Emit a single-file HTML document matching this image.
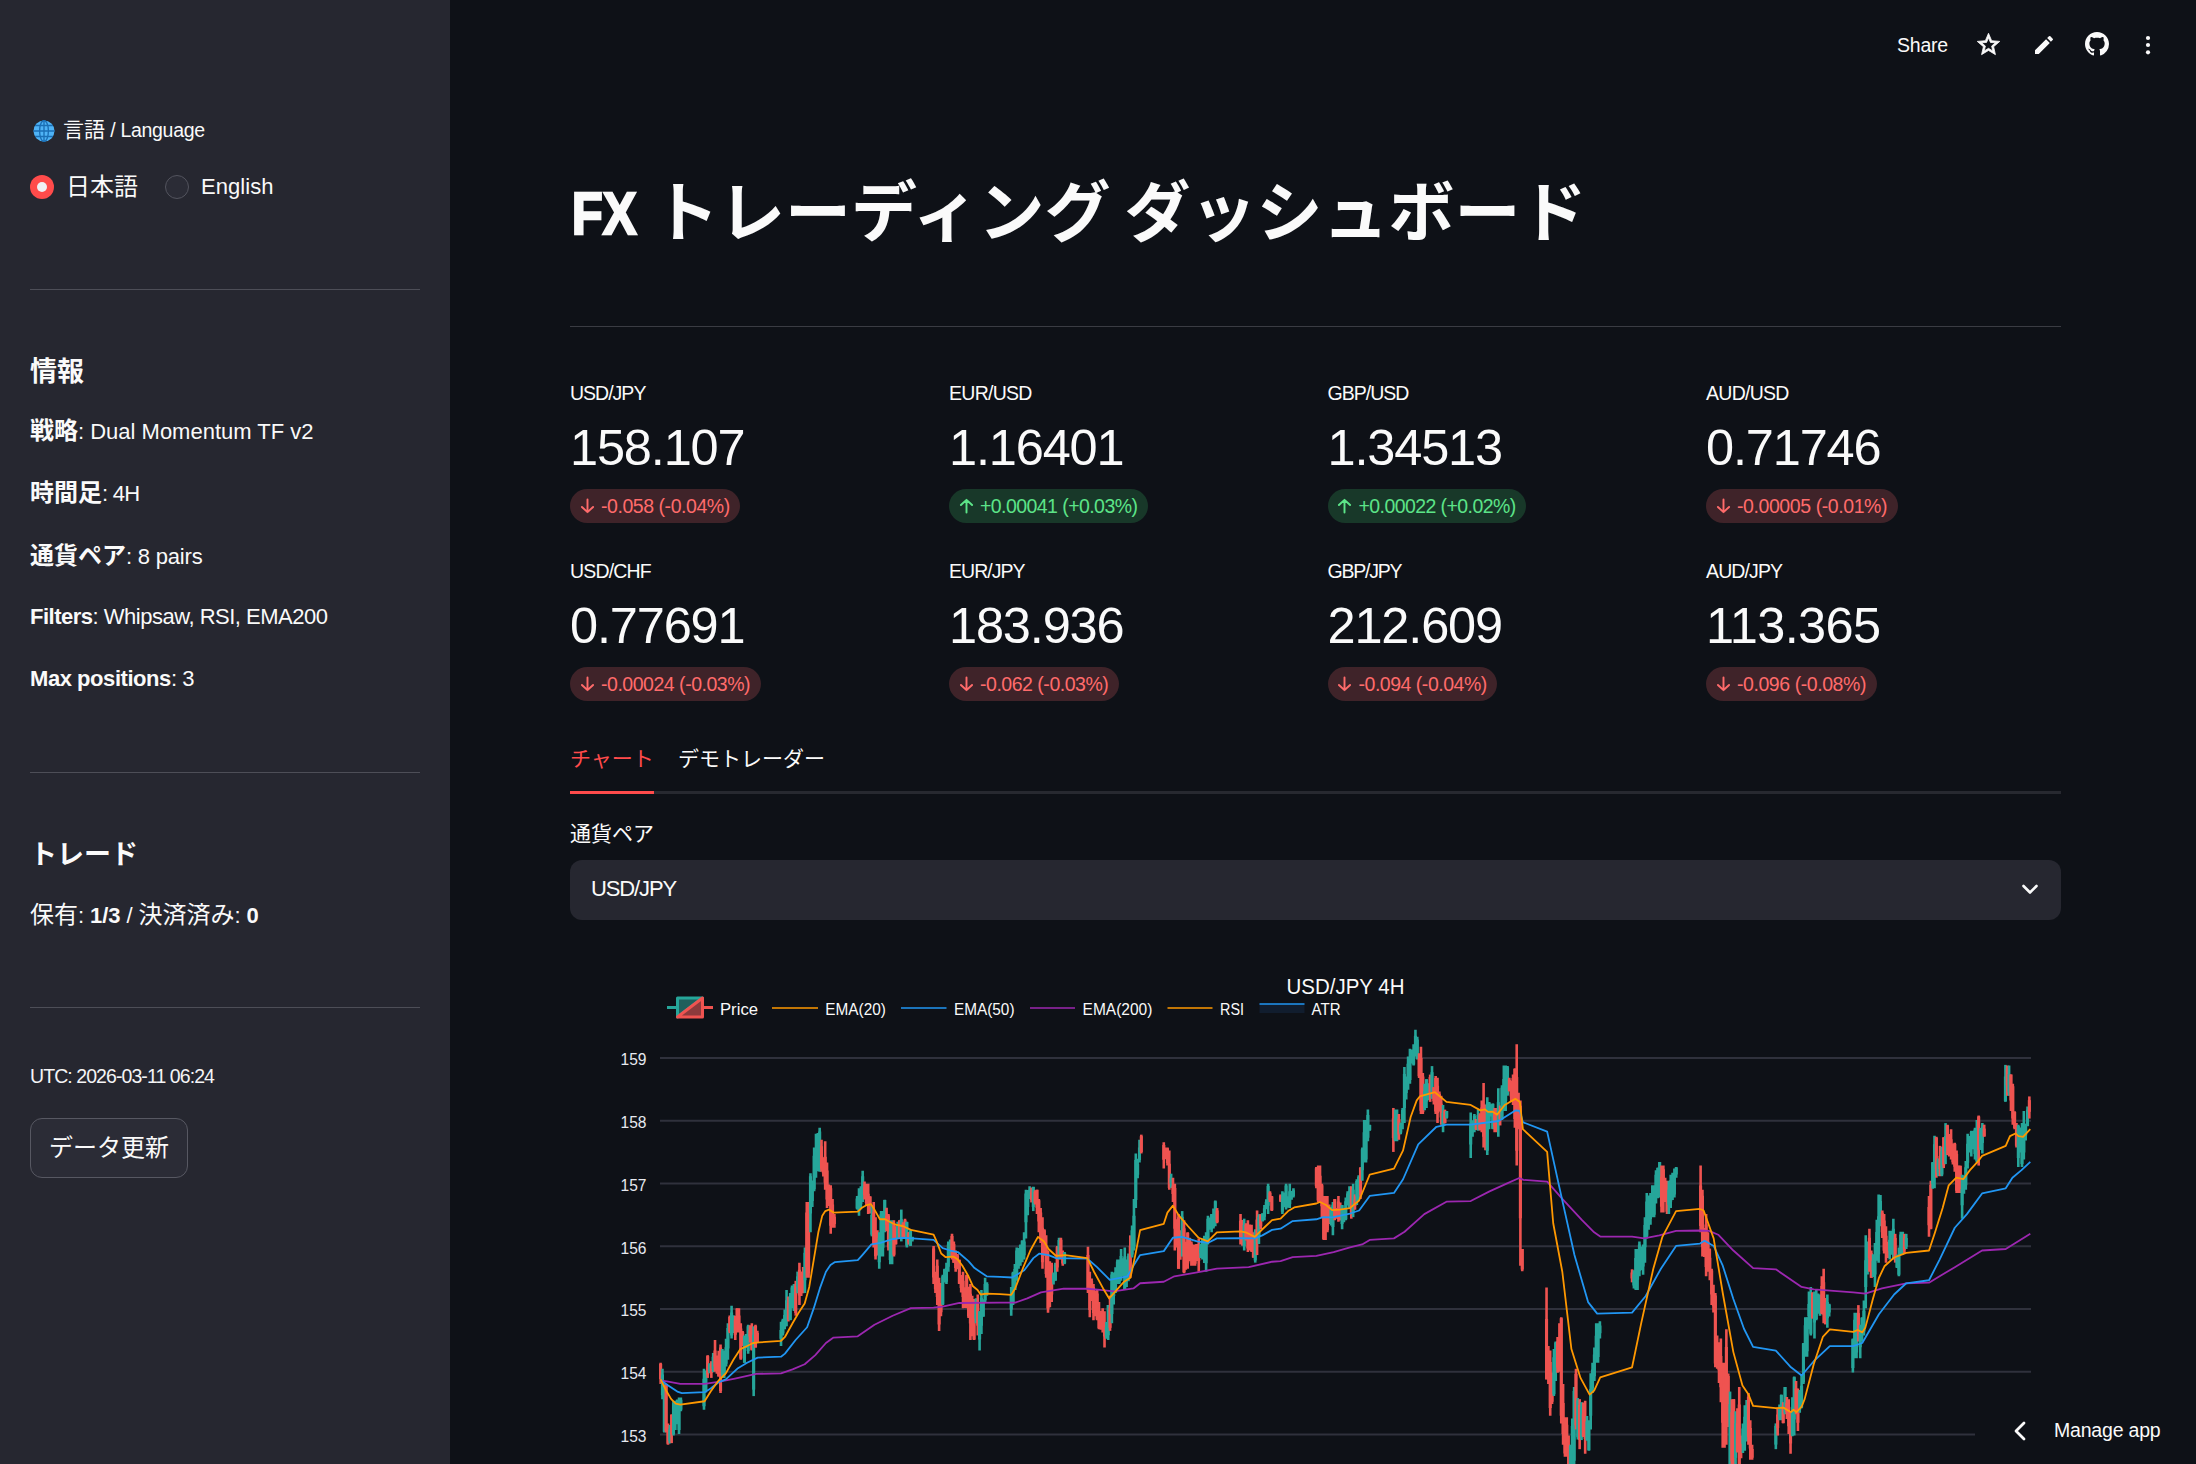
<!DOCTYPE html>
<html lang="ja">
<head>
<meta charset="utf-8">
<title>FX トレーディング ダッシュボード</title>
<style>
*{box-sizing:border-box;margin:0;padding:0}
html,body{width:2196px;height:1464px;overflow:hidden;background:#0e1117}
body{font-family:"Liberation Sans","Noto Sans CJK JP",sans-serif;color:#fafafa;position:relative;-webkit-font-smoothing:antialiased}
.abs{position:absolute}
.t{position:absolute;white-space:nowrap;line-height:1;color:#fafafa}
.l{font-family:"Liberation Sans","Noto Sans CJK JP",sans-serif}
b{font-weight:700}
#sidebar{position:absolute;left:0;top:0;width:450px;height:1464px;background:#262730}
#main{position:absolute;left:450px;top:0;width:1746px;height:1464px;background:#0e1117}
.hr{position:absolute;height:1px;background:#4d4e57}
.s24{font-size:24px}
.s21{font-size:21px}
.lat{font-size:22px}
.metric-label{font-size:21px}
.metric-value{font-size:54px}
.pill{position:absolute;height:34px;border-radius:17px;font-size:21px;line-height:34px;white-space:nowrap;padding-left:31px}
.pill svg{position:absolute;left:9.5px;top:9px}
.pill.dn{background:#3f2329;color:#ff6b6b}
.pill.up{background:#183829;color:#5ce488}
</style>
</head>
<body>
<aside id="sidebar">
  <!-- language label -->
  <svg class="abs" style="left:33px;top:119.5px" width="22" height="22" viewBox="0 0 21 21">
    <circle cx="10.5" cy="10.5" r="10" fill="#4fb3f6"/>
    <g fill="none" stroke="#1b6fb5" stroke-width="1.3">
      <ellipse cx="10.5" cy="10.5" rx="4.2" ry="10"/>
      <path d="M10.5 .5v20M.5 10.5h20M2 5.3h17M2 15.7h17"/>
    </g>
  </svg>
  <div class="t s21" style="left:63px;top:119px">言語<span style="font-size:19.5px;letter-spacing:-0.292px"> / Language</span></div>
  <!-- radios -->
  <div class="abs" style="left:30px;top:175px;width:24px;height:24px;border-radius:50%;background:#ff4b4b"></div>
  <div class="abs" style="left:37px;top:182px;width:10px;height:10px;border-radius:50%;background:#f0f0f5"></div>
  <div class="t s24" style="left:66px;top:175px">日本語</div>
  <div class="abs" style="left:165px;top:175px;width:24px;height:24px;border-radius:50%;background:#2b2c36;border:1.5px solid #53545e"></div>
  <div class="t" style="left:201px;top:176px"><span style="font-size:22px;letter-spacing:0.049px">English</span></div>
  <div class="hr" style="left:30px;top:289px;width:390px"></div>

  <div class="t" style="left:30px;top:358.5px;font-size:27px;font-weight:700">情報</div>
  <div class="t s24" style="left:30px;top:418.5px"><b>戦略</b><span style="font-size:22px;letter-spacing:-0.003px">: Dual Momentum TF v2</span></div>
  <div class="t s24" style="left:30px;top:480.5px"><b>時間足</b><span style="font-size:22px;letter-spacing:-0.715px">: 4H</span></div>
  <div class="t s24" style="left:30px;top:543.5px"><b>通貨ペア</b><span style="font-size:22px;letter-spacing:-0.196px">: 8 pairs</span></div>
  <div class="t" style="left:30px;top:606px"><span style="font-size:22px;letter-spacing:-0.493px"><b>Filters</b>: Whipsaw, RSI, EMA200</span></div>
  <div class="t" style="left:30px;top:668px"><span style="font-size:22px;letter-spacing:-0.447px"><b>Max positions</b>: 3</span></div>
  <div class="hr" style="left:30px;top:772px;width:390px"></div>

  <div class="t" style="left:30px;top:841.5px;font-size:27px;font-weight:700">トレード</div>
  <div class="t s24" style="left:30px;top:903px">保有<span style="font-size:22px;letter-spacing:-0.084px">: <b>1/3</b> / </span>決済済み<span style="font-size:22px;letter-spacing:-0.161px">: <b>0</b></span></div>
  <div class="hr" style="left:30px;top:1007px;width:390px"></div>

  <div class="t" style="left:30px;top:1066.5px;color:#f4f4f6"><span style="font-size:19.5px;letter-spacing:-0.926px">UTC: 2026-03-11 06:24</span></div>
  <div class="abs" style="left:30px;top:1118px;width:158px;height:60px;border-radius:12px;border:1px solid #575862;background:#2b2c36"></div>
  <div class="t s24" style="left:49px;top:1135.5px">データ更新</div>
</aside>

<main id="main">
  <!-- header toolbar -->
  <div class="t" style="left:1447px;top:35.5px"><span style="font-size:19.5px;letter-spacing:-0.209px">Share</span></div>
  <svg class="abs" style="left:1525px;top:30.5px" width="27" height="27" viewBox="0 0 24 24" fill="#fafafa" stroke="#fafafa" stroke-width=".7" stroke-linejoin="round"><path d="M22 9.24l-7.19-.62L12 2 9.19 8.63 2 9.24l5.46 4.73L5.82 21 12 17.27 18.18 21l-1.63-7.03L22 9.24zM12 15.4l-3.76 2.27 1-4.28-3.32-2.88 4.38-.38L12 6.1l1.71 4.04 4.38.38-3.32 2.88 1 4.28L12 15.4z"/></svg>
  <svg class="abs" style="left:1581.5px;top:32.5px" width="24" height="24" viewBox="0 0 24 24" fill="#fafafa"><path d="M3 17.25V21h3.75L17.81 9.94l-3.75-3.75L3 17.25zM20.71 7.04a.996.996 0 000-1.41l-2.34-2.34a.996.996 0 00-1.41 0l-1.83 1.83 3.75 3.75 1.83-1.83z"/></svg>
  <svg class="abs" style="left:1635px;top:32px" width="24" height="24" viewBox="0 0 16 16" fill="#fafafa"><path d="M8 0C3.58 0 0 3.58 0 8c0 3.54 2.29 6.53 5.47 7.59.4.07.55-.17.55-.38 0-.19-.01-.82-.01-1.49-2.01.37-2.53-.49-2.69-.94-.09-.23-.48-.94-.82-1.13-.28-.15-.68-.52-.01-.53.63-.01 1.08.58 1.23.82.72 1.21 1.87.87 2.33.66.07-.52.28-.87.51-1.07-1.78-.2-3.64-.89-3.64-3.95 0-.87.31-1.59.82-2.15-.08-.2-.36-1.02.08-2.12 0 0 .67-.21 2.2.82.64-.18 1.32-.27 2-.27s1.36.09 2 .27c1.53-1.04 2.2-.82 2.2-.82.44 1.1.16 1.92.08 2.12.51.56.82 1.27.82 2.15 0 3.07-1.87 3.75-3.65 3.95.29.25.54.73.54 1.48 0 1.07-.01 1.93-.01 2.2 0 .21.15.46.55.38A8.01 8.01 0 0016 8c0-4.42-3.58-8-8-8z"/></svg>
  <svg class="abs" style="left:1686px;top:32px" width="24" height="24" viewBox="0 0 24 24" fill="#fafafa"><circle cx="12" cy="6" r="2.1"/><circle cx="12" cy="13" r="2.1"/><circle cx="12" cy="20.3" r="2.1"/></svg>

  <!-- title -->
  <h1 class="t" style="left:120px;top:179.5px;font-size:66px;font-weight:700"><span style="display:inline-block;width:70px;font-size:59px;transform:scaleX(.86);transform-origin:0 50%;-webkit-text-stroke:2.4px #fafafa;padding-left:2px;position:relative;top:-1.5px">FX</span><span class="sp" style="display:inline-block;width:13px"></span>トレーディング<span class="sp" style="display:inline-block;width:14px"></span>ダッシュボード</h1>
  <div class="hr" style="left:120px;top:326px;width:1491px;background:#3a3c43"></div>

  <!-- metrics -->
  <div class="t" style="left:120px;top:383.5px"><span style="font-size:19.5px;letter-spacing:-0.994px">USD/JPY</span></div>
  <div class="t" style="left:120px;top:423px"><span style="font-size:50.5px;letter-spacing:-1.150px">158.107</span></div>
  <div class="pill dn" style="left:120px;top:489px;width:170.2px"><svg width="15" height="16" viewBox="0 0 14 16" preserveAspectRatio="none" fill="none" stroke="currentColor" stroke-width="1.8" stroke-linecap="round" stroke-linejoin="round"><path d="M7 1.5v12.5M1.8 9l5.2 5.2L12.2 9"/></svg><span style="font-size:19.5px;letter-spacing:-0.452px">-0.058 (-0.04%)</span></div>
  <div class="t" style="left:499px;top:383.5px"><span style="font-size:19.5px;letter-spacing:-0.724px">EUR/USD</span></div>
  <div class="t" style="left:499px;top:423px"><span style="font-size:50.5px;letter-spacing:-1.150px">1.16401</span></div>
  <div class="pill up" style="left:499px;top:489px;width:198.9px"><svg width="15" height="16" viewBox="0 0 14 16" preserveAspectRatio="none" fill="none" stroke="currentColor" stroke-width="1.8" stroke-linecap="round" stroke-linejoin="round"><path d="M7 14.5V2M1.8 7l5.2-5.2L12.2 7"/></svg><span style="font-size:19.5px;letter-spacing:-0.563px">+0.00041 (+0.03%)</span></div>
  <div class="t" style="left:877.5px;top:383.5px"><span style="font-size:19.5px;letter-spacing:-0.969px">GBP/USD</span></div>
  <div class="t" style="left:877.5px;top:423px"><span style="font-size:50.5px;letter-spacing:-1.150px">1.34513</span></div>
  <div class="pill up" style="left:877.5px;top:489px;width:198.6px"><svg width="15" height="16" viewBox="0 0 14 16" preserveAspectRatio="none" fill="none" stroke="currentColor" stroke-width="1.8" stroke-linecap="round" stroke-linejoin="round"><path d="M7 14.5V2M1.8 7l5.2-5.2L12.2 7"/></svg><span style="font-size:19.5px;letter-spacing:-0.581px">+0.00022 (+0.02%)</span></div>
  <div class="t" style="left:1256px;top:383.5px"><span style="font-size:19.5px;letter-spacing:-0.724px">AUD/USD</span></div>
  <div class="t" style="left:1256px;top:423px"><span style="font-size:50.5px;letter-spacing:-1.150px">0.71746</span></div>
  <div class="pill dn" style="left:1256px;top:489px;width:191.6px"><svg width="15" height="16" viewBox="0 0 14 16" preserveAspectRatio="none" fill="none" stroke="currentColor" stroke-width="1.8" stroke-linecap="round" stroke-linejoin="round"><path d="M7 1.5v12.5M1.8 9l5.2 5.2L12.2 9"/></svg><span style="font-size:19.5px;letter-spacing:-0.416px">-0.00005 (-0.01%)</span></div>
  <div class="t" style="left:120px;top:561.5px"><span style="font-size:19.5px;letter-spacing:-0.825px">USD/CHF</span></div>
  <div class="t" style="left:120px;top:601px"><span style="font-size:50.5px;letter-spacing:-1.150px">0.77691</span></div>
  <div class="pill dn" style="left:120px;top:667px;width:190.6px"><svg width="15" height="16" viewBox="0 0 14 16" preserveAspectRatio="none" fill="none" stroke="currentColor" stroke-width="1.8" stroke-linecap="round" stroke-linejoin="round"><path d="M7 1.5v12.5M1.8 9l5.2 5.2L12.2 9"/></svg><span style="font-size:19.5px;letter-spacing:-0.475px">-0.00024 (-0.03%)</span></div>
  <div class="t" style="left:499px;top:561.5px"><span style="font-size:19.5px;letter-spacing:-0.980px">EUR/JPY</span></div>
  <div class="t" style="left:499px;top:601px"><span style="font-size:50.5px;letter-spacing:-1.150px">183.936</span></div>
  <div class="pill dn" style="left:499px;top:667px;width:169.8px"><svg width="15" height="16" viewBox="0 0 14 16" preserveAspectRatio="none" fill="none" stroke="currentColor" stroke-width="1.8" stroke-linecap="round" stroke-linejoin="round"><path d="M7 1.5v12.5M1.8 9l5.2 5.2L12.2 9"/></svg><span style="font-size:19.5px;letter-spacing:-0.479px">-0.062 (-0.03%)</span></div>
  <div class="t" style="left:877.5px;top:561.5px"><span style="font-size:19.5px;letter-spacing:-1.239px">GBP/JPY</span></div>
  <div class="t" style="left:877.5px;top:601px"><span style="font-size:50.5px;letter-spacing:-1.150px">212.609</span></div>
  <div class="pill dn" style="left:877.5px;top:667px;width:169.8px"><svg width="15" height="16" viewBox="0 0 14 16" preserveAspectRatio="none" fill="none" stroke="currentColor" stroke-width="1.8" stroke-linecap="round" stroke-linejoin="round"><path d="M7 1.5v12.5M1.8 9l5.2 5.2L12.2 9"/></svg><span style="font-size:19.5px;letter-spacing:-0.479px">-0.094 (-0.04%)</span></div>
  <div class="t" style="left:1256px;top:561.5px"><span style="font-size:19.5px;letter-spacing:-0.880px">AUD/JPY</span></div>
  <div class="t" style="left:1256px;top:601px"><span style="font-size:50.5px;letter-spacing:-0.614px">113.365</span></div>
  <div class="pill dn" style="left:1256px;top:667px;width:170.5px"><svg width="15" height="16" viewBox="0 0 14 16" preserveAspectRatio="none" fill="none" stroke="currentColor" stroke-width="1.8" stroke-linecap="round" stroke-linejoin="round"><path d="M7 1.5v12.5M1.8 9l5.2 5.2L12.2 9"/></svg><span style="font-size:19.5px;letter-spacing:-0.432px">-0.096 (-0.08%)</span></div>

  <!-- tabs -->
  <div class="t s21" style="left:120px;top:748px;color:#ff4b4b">チャート</div>
  <div class="t s21" style="left:228px;top:748px">デモトレーダー</div>
  <div class="abs" style="left:120px;top:791px;width:1491px;height:3px;background:#272930"></div>
  <div class="abs" style="left:120px;top:791px;width:84px;height:3px;background:#ff4b4b"></div>

  <!-- selectbox -->
  <div class="t s21" style="left:120px;top:823px">通貨ペア</div>
  <div class="abs" style="left:120px;top:860px;width:1491px;height:60px;border-radius:12px;background:#262730"></div>
  <div class="t" style="left:141px;top:878px"><span style="font-size:22px;letter-spacing:-1.132px">USD/JPY</span></div>
  <svg class="abs" style="left:1570px;top:879px" width="20" height="20" viewBox="0 0 20 20" fill="none" stroke="#fafafa" stroke-width="2.6" stroke-linecap="round" stroke-linejoin="round"><path d="M3.5 7l6.5 6.5L16.5 7"/></svg>

  <!-- chart -->
<svg class="abs" style="left:120px;top:950px" width="1491" height="514" viewBox="0 0 1491 514" font-family="'Liberation Sans','Noto Sans CJK JP',sans-serif">
<line x1="90" x2="1461" y1="108.0" y2="108.0" stroke="#2f313c" stroke-width="2"/>
<text x="76.5" y="115.3" text-anchor="end" font-size="17" textLength="26" lengthAdjust="spacingAndGlyphs" fill="#e6e9f0">159</text>
<line x1="90" x2="1461" y1="170.75" y2="170.75" stroke="#2f313c" stroke-width="2"/>
<text x="76.5" y="178.05" text-anchor="end" font-size="17" textLength="26" lengthAdjust="spacingAndGlyphs" fill="#e6e9f0">158</text>
<line x1="90" x2="1461" y1="233.5" y2="233.5" stroke="#2f313c" stroke-width="2"/>
<text x="76.5" y="240.8" text-anchor="end" font-size="17" textLength="26" lengthAdjust="spacingAndGlyphs" fill="#e6e9f0">157</text>
<line x1="90" x2="1461" y1="296.25" y2="296.25" stroke="#2f313c" stroke-width="2"/>
<text x="76.5" y="303.55" text-anchor="end" font-size="17" textLength="26" lengthAdjust="spacingAndGlyphs" fill="#e6e9f0">156</text>
<line x1="90" x2="1461" y1="359.0" y2="359.0" stroke="#2f313c" stroke-width="2"/>
<text x="76.5" y="366.3" text-anchor="end" font-size="17" textLength="26" lengthAdjust="spacingAndGlyphs" fill="#e6e9f0">155</text>
<line x1="90" x2="1461" y1="421.75" y2="421.75" stroke="#2f313c" stroke-width="2"/>
<text x="76.5" y="429.05" text-anchor="end" font-size="17" textLength="26" lengthAdjust="spacingAndGlyphs" fill="#e6e9f0">154</text>
<line x1="90" x2="1461" y1="484.5" y2="484.5" stroke="#2f313c" stroke-width="2"/>
<text x="76.5" y="491.8" text-anchor="end" font-size="17" textLength="26" lengthAdjust="spacingAndGlyphs" fill="#e6e9f0">153</text>
<path d="M90.62 412.74V433.97" stroke="#ef5350" stroke-width="2.6" fill="none"/><path d="M90.62 413.86V429.13" stroke="#ef5350" stroke-width="3.1" fill="none"/>
<path d="M92.46 418.8V449.13M94.3 433.97V482.5" stroke="#26a69a" stroke-width="2.6" fill="none"/><path d="M92.46 424.49V445.25M94.3 442.59V481.86" stroke="#26a69a" stroke-width="3.1" fill="none"/>
<path d="M96.14 433.97V482.5M97.98 473.4V494.63" stroke="#ef5350" stroke-width="2.6" fill="none"/><path d="M96.14 435.15V480.96M97.98 479.54V493.71" stroke="#ef5350" stroke-width="3.1" fill="none"/>
<path d="M99.82 474.96V493.47" stroke="#26a69a" stroke-width="2.6" fill="none"/><path d="M99.82 478.69V490.9" stroke="#26a69a" stroke-width="3.1" fill="none"/>
<path d="M101.66 464.3V493.11" stroke="#ef5350" stroke-width="2.6" fill="none"/><path d="M101.66 464.77V484.45" stroke="#ef5350" stroke-width="3.1" fill="none"/>
<path d="M103.5 450.65V485.53M105.34 451.1V479.9M107.18 449.39V474.36M109.02 447.62V484.01M110.86 447.62V461.26" stroke="#26a69a" stroke-width="2.6" fill="none"/><path d="M103.5 452.41V484.09M105.34 456.96V473.46M107.18 449.91V472.56M109.02 453.06V480.01M110.86 449.78V459.83" stroke="#26a69a" stroke-width="3.1" fill="none"/>
<path d="M133.99 418.8V459.75M135.83 420.62V442.4" stroke="#26a69a" stroke-width="2.6" fill="none"/><path d="M133.99 428.82V456.25M135.83 426.18V440.21" stroke="#26a69a" stroke-width="3.1" fill="none"/>
<path d="M137.67 405.15V427.9" stroke="#ef5350" stroke-width="2.6" fill="none"/><path d="M137.67 406.09V424.57" stroke="#ef5350" stroke-width="3.1" fill="none"/>
<path d="M139.51 413.39V423.23" stroke="#26a69a" stroke-width="2.6" fill="none"/><path d="M139.51 413.52V420.93" stroke="#26a69a" stroke-width="3.1" fill="none"/>
<path d="M141.35 411.22V427.9" stroke="#ef5350" stroke-width="2.6" fill="none"/><path d="M141.35 414.56V422.79" stroke="#ef5350" stroke-width="3.1" fill="none"/>
<path d="M143.19 402.96V422.12" stroke="#26a69a" stroke-width="2.6" fill="none"/><path d="M143.19 406.85V419.06" stroke="#26a69a" stroke-width="3.1" fill="none"/>
<path d="M145.03 389.99V421.84M146.87 405.55V423.65M148.71 400.76V426.58M150.55 394.54V443.07" stroke="#ef5350" stroke-width="2.6" fill="none"/><path d="M145.03 400.52V416.55M146.87 409.65V417.36M148.71 406.8V426.38M150.55 397.39V441.08" stroke="#ef5350" stroke-width="3.1" fill="none"/>
<path d="M152.39 399.0V427.86M154.23 400.6V427.9M156.07 388.85V416.45M157.91 373.31V409.7" stroke="#26a69a" stroke-width="2.6" fill="none"/><path d="M152.39 401.5V423.91M154.23 401.37V423.61M156.07 397.19V413.76M157.91 377.88V398.44" stroke="#26a69a" stroke-width="3.1" fill="none"/>
<path d="M159.75 365.48V383.18" stroke="#ef5350" stroke-width="2.6" fill="none"/><path d="M159.75 366.91V381.73" stroke="#ef5350" stroke-width="3.1" fill="none"/>
<path d="M161.59 355.71V388.47M163.43 365.31V383.04" stroke="#26a69a" stroke-width="2.6" fill="none"/><path d="M161.59 362.47V385.46M163.43 368.82V377.12" stroke="#26a69a" stroke-width="3.1" fill="none"/>
<path d="M165.27 365.72V389.99M167.11 358.14V382.41M168.95 358.14V382.41M170.79 373.31V409.7M172.63 380.96V396.01" stroke="#ef5350" stroke-width="2.6" fill="none"/><path d="M165.27 370.1V384.74M167.11 358.6V374.77M168.95 365.57V375.63M170.79 378.39V408.38M172.63 382.06V395.16" stroke="#ef5350" stroke-width="3.1" fill="none"/>
<path d="M174.47 385.44V412.74M176.31 383.96V397.96M178.15 374.82V403.64" stroke="#26a69a" stroke-width="2.6" fill="none"/><path d="M174.47 385.94V412.73M176.31 384.08V393.68M178.15 376.32V401.09" stroke="#26a69a" stroke-width="3.1" fill="none"/>
<path d="M179.99 375.25V392.39M181.83 373.31V400.6" stroke="#ef5350" stroke-width="2.6" fill="none"/><path d="M179.99 380.35V386.44M181.83 377.93V399.78" stroke="#ef5350" stroke-width="3.1" fill="none"/>
<path d="M183.67 376.34V446.1" stroke="#26a69a" stroke-width="2.6" fill="none"/><path d="M183.67 384.7V439.64" stroke="#26a69a" stroke-width="3.1" fill="none"/>
<path d="M185.51 374.82V397.57M187.35 380.8V392.35" stroke="#ef5350" stroke-width="2.6" fill="none"/><path d="M185.51 376.11V397.39M187.35 383.0V392.24" stroke="#ef5350" stroke-width="3.1" fill="none"/>
<path d="M211.03 371.79V396.05M212.87 368.76V385.44M214.71 359.53V379.33M216.55 339.94V376.34" stroke="#26a69a" stroke-width="2.6" fill="none"/><path d="M211.03 380.1V388.72M212.87 370.28V383.3M214.71 364.93V377.04M216.55 350.28V363.79" stroke="#26a69a" stroke-width="3.1" fill="none"/>
<path d="M218.39 346.55V371.49" stroke="#ef5350" stroke-width="2.6" fill="none"/><path d="M218.39 353.01V369.51" stroke="#ef5350" stroke-width="3.1" fill="none"/>
<path d="M220.23 342.98V370.27M222.07 335.39V358.14M223.91 334.09V361.02" stroke="#26a69a" stroke-width="2.6" fill="none"/><path d="M220.23 346.37V370.0M222.07 337.62V356.08M223.91 342.92V351.71" stroke="#26a69a" stroke-width="3.1" fill="none"/>
<path d="M225.75 330.84V365.72" stroke="#ef5350" stroke-width="2.6" fill="none"/><path d="M225.75 335.29V363.03" stroke="#ef5350" stroke-width="3.1" fill="none"/>
<path d="M227.59 321.61V343.32" stroke="#26a69a" stroke-width="2.6" fill="none"/><path d="M227.59 326.35V336.47" stroke="#26a69a" stroke-width="3.1" fill="none"/>
<path d="M229.43 312.64V355.11M231.27 321.74V346.01M233.11 316.91V343.18" stroke="#ef5350" stroke-width="2.6" fill="none"/><path d="M229.43 319.77V345.4M231.27 322.46V340.4M233.11 321.3V341.53" stroke="#ef5350" stroke-width="3.1" fill="none"/>
<path d="M234.95 297.48V342.98" stroke="#26a69a" stroke-width="2.6" fill="none"/><path d="M234.95 302.77V330.22" stroke="#26a69a" stroke-width="3.1" fill="none"/>
<path d="M236.79 251.98V327.81M238.63 251.98V327.81" stroke="#ef5350" stroke-width="2.6" fill="none"/><path d="M236.79 262.49V317.16M238.63 271.22V323.3" stroke="#ef5350" stroke-width="3.1" fill="none"/>
<path d="M240.47 223.17V282.31M242.31 230.5V256.99M244.15 197.39V241.37M245.99 183.74V227.72M247.83 182.98V221.25M249.67 177.67V221.65" stroke="#26a69a" stroke-width="2.6" fill="none"/><path d="M240.47 226.3V263.58M242.31 239.59V250.9M244.15 205.83V239.35M245.99 198.68V217.72M247.83 194.66V210.19M249.67 181.55V217.14" stroke="#26a69a" stroke-width="3.1" fill="none"/>
<path d="M251.51 189.81V221.65M253.35 207.2V226.41M255.19 191.32V239.85M257.03 212.55V258.05M258.87 234.5V256.01M260.71 235.3V283.83M262.55 248.95V277.76M264.39 264.12V277.76" stroke="#ef5350" stroke-width="2.6" fill="none"/><path d="M251.51 196.34V218.76M253.35 209.58V223.33M255.19 206.68V232.71M257.03 220.54V249.58M258.87 235.88V255.98M260.71 238.23V275.79M262.55 254.56V274.48M264.39 266.77V274.02" stroke="#ef5350" stroke-width="3.1" fill="none"/>
<path d="M287.16 245.92V259.57M289.0 238.33V265.63M290.84 236.31V259.27M292.68 220.74V251.98" stroke="#26a69a" stroke-width="2.6" fill="none"/><path d="M287.16 248.59V258.38M289.0 245.71V260.78M290.84 239.87V254.35M292.68 226.34V244.41" stroke="#26a69a" stroke-width="3.1" fill="none"/>
<path d="M294.52 231.46V249.38M296.36 233.79V255.02M298.2 233.79V264.12M300.04 246.16V263.51" stroke="#ef5350" stroke-width="2.6" fill="none"/><path d="M294.52 237.36V244.99M296.36 240.79V253.09M298.2 243.8V255.2M300.04 246.6V262.05" stroke="#ef5350" stroke-width="3.1" fill="none"/>
<path d="M301.88 255.21V286.35" stroke="#26a69a" stroke-width="2.6" fill="none"/><path d="M301.88 264.99V284.67" stroke="#26a69a" stroke-width="3.1" fill="none"/>
<path d="M303.72 251.98V297.48M305.56 267.15V309.61M307.4 280.37V305.58" stroke="#ef5350" stroke-width="2.6" fill="none"/><path d="M303.72 262.5V295.2M305.56 281.53V306.35M307.4 289.1V298.24" stroke="#ef5350" stroke-width="3.1" fill="none"/>
<path d="M309.24 282.31V318.71M311.08 261.08V306.58M312.92 261.08V306.58M314.76 249.86V282.31" stroke="#26a69a" stroke-width="2.6" fill="none"/><path d="M309.24 287.81V312.14M311.08 264.2V301.51M312.92 261.39V297.76M314.76 250.07V278.55" stroke="#26a69a" stroke-width="3.1" fill="none"/>
<path d="M316.6 257.79V281.23M318.44 264.12V300.51" stroke="#ef5350" stroke-width="2.6" fill="none"/><path d="M316.6 265.87V274.76M318.44 265.45V297.13" stroke="#ef5350" stroke-width="3.1" fill="none"/>
<path d="M320.28 270.18V314.16M322.12 270.18V314.16" stroke="#26a69a" stroke-width="2.6" fill="none"/><path d="M320.28 282.17V310.0M322.12 276.68V300.13" stroke="#26a69a" stroke-width="3.1" fill="none"/>
<path d="M323.96 270.18V306.58M325.8 276.29V294.5" stroke="#ef5350" stroke-width="2.6" fill="none"/><path d="M323.96 273.48V304.68M325.8 276.86V294.13" stroke="#ef5350" stroke-width="3.1" fill="none"/>
<path d="M327.64 271.7V288.38" stroke="#26a69a" stroke-width="2.6" fill="none"/><path d="M327.64 274.18V287.96" stroke="#26a69a" stroke-width="3.1" fill="none"/>
<path d="M329.48 270.07V288.8" stroke="#ef5350" stroke-width="2.6" fill="none"/><path d="M329.48 270.62V283.19" stroke="#ef5350" stroke-width="3.1" fill="none"/>
<path d="M331.32 259.57V291.41" stroke="#26a69a" stroke-width="2.6" fill="none"/><path d="M331.32 269.18V286.36" stroke="#26a69a" stroke-width="3.1" fill="none"/>
<path d="M333.16 272.26V288.87M335.0 268.67V288.38" stroke="#ef5350" stroke-width="2.6" fill="none"/><path d="M333.16 273.82V288.12M335.0 270.31V287.63" stroke="#ef5350" stroke-width="3.1" fill="none"/>
<path d="M336.84 271.7V297.48" stroke="#26a69a" stroke-width="2.6" fill="none"/><path d="M336.84 272.15V295.66" stroke="#26a69a" stroke-width="3.1" fill="none"/>
<path d="M338.68 282.08V294.62" stroke="#ef5350" stroke-width="2.6" fill="none"/><path d="M338.68 283.35V292.43" stroke="#ef5350" stroke-width="3.1" fill="none"/>
<path d="M340.52 279.28V295.96M342.36 286.86V291.41" stroke="#26a69a" stroke-width="2.6" fill="none"/><path d="M340.52 281.31V295.86M342.36 286.89V290.25" stroke="#26a69a" stroke-width="3.1" fill="none"/>
<path d="M363.59 295.96V333.88M365.43 321.73V342.89M367.27 309.61V355.11M369.11 327.81V380.89M370.95 332.92V366.23" stroke="#ef5350" stroke-width="2.6" fill="none"/><path d="M363.59 298.48V327.58M365.43 324.93V339.22M367.27 315.87V347.04M369.11 346.06V374.52M370.95 337.63V362.18" stroke="#ef5350" stroke-width="3.1" fill="none"/>
<path d="M372.79 324.78V355.11M374.63 318.75V332.6M376.47 312.64V333.88M378.31 291.41V321.74M380.15 289.6V307.64" stroke="#26a69a" stroke-width="2.6" fill="none"/><path d="M372.79 326.16V354.36M374.63 319.16V328.52M376.47 317.63V331.78M378.31 294.52V316.87M380.15 295.67V301.5" stroke="#26a69a" stroke-width="3.1" fill="none"/>
<path d="M381.99 283.83V309.61M383.83 291.41V312.64M385.67 300.51V321.74M387.51 304.06V319.23M389.35 309.61V333.88M391.19 325.11V342.61M393.03 321.74V358.14M394.87 337.19V357.93M396.71 324.78V358.14M398.55 336.82V368.0M400.39 333.88V389.99M402.23 345.69V386.32M404.07 349.04V389.99" stroke="#ef5350" stroke-width="2.6" fill="none"/><path d="M381.99 286.04V300.9M383.83 294.06V312.64M385.67 304.04V318.01M387.51 305.47V318.76M389.35 309.97V333.69M391.19 328.35V338.01M393.03 330.86V346.94M394.87 338.27V352.67M396.71 325.29V348.39M398.55 345.69V366.48M400.39 343.78V373.59M402.23 358.39V376.61M404.07 352.34V389.54" stroke="#ef5350" stroke-width="3.1" fill="none"/>
<path d="M405.91 348.23V373.3" stroke="#26a69a" stroke-width="2.6" fill="none"/><path d="M405.91 355.57V368.4" stroke="#26a69a" stroke-width="3.1" fill="none"/>
<path d="M407.75 344.49V385.44" stroke="#ef5350" stroke-width="2.6" fill="none"/><path d="M407.75 353.47V375.68" stroke="#ef5350" stroke-width="3.1" fill="none"/>
<path d="M409.59 361.17V400.6M411.43 339.94V383.92M413.27 349.33V366.84M415.11 327.81V352.07M416.95 332.24V345.82" stroke="#26a69a" stroke-width="2.6" fill="none"/><path d="M409.59 361.22V389.6M411.43 347.68V375.68M413.27 350.87V366.38M415.11 334.0V350.33M416.95 334.06V343.55" stroke="#26a69a" stroke-width="3.1" fill="none"/>
<path d="M441.22 336.91V365.72M443.06 321.74V355.11M444.9 313.9V340.08M446.74 297.48V330.84M448.58 297.99V318.73M450.42 294.45V315.68M452.26 290.42V312.23M454.1 282.31V309.61M455.94 239.85V288.38M457.78 240.0V265.37M459.62 236.21V248.95" stroke="#26a69a" stroke-width="2.6" fill="none"/><path d="M441.22 344.64V359.5M443.06 322.65V353.39M444.9 319.11V339.96M446.74 300.62V323.0M448.58 301.74V315.36M450.42 295.33V309.04M452.26 290.55V308.73M454.1 291.56V305.32M455.94 243.42V272.32M457.78 244.65V256.91M459.62 239.87V246.68" stroke="#26a69a" stroke-width="3.1" fill="none"/>
<path d="M461.46 237.6V252.43" stroke="#ef5350" stroke-width="2.6" fill="none"/><path d="M461.46 242.26V249.91" stroke="#ef5350" stroke-width="3.1" fill="none"/>
<path d="M463.3 236.82V261.08" stroke="#26a69a" stroke-width="2.6" fill="none"/><path d="M463.3 236.85V256.91" stroke="#26a69a" stroke-width="3.1" fill="none"/>
<path d="M465.14 240.22V254.44M466.98 239.85V264.12M468.82 248.95V282.31M470.66 258.05V292.93M472.5 267.15V318.71M474.34 279.37V305.72M476.18 285.35V327.81M478.02 300.51V362.69M479.86 311.37V357.3M481.7 312.64V352.07" stroke="#ef5350" stroke-width="2.6" fill="none"/><path d="M465.14 241.93V252.86M466.98 239.87V257.74M468.82 250.35V271.5M470.66 262.59V288.13M472.5 277.78V312.2M474.34 280.31V298.02M476.18 299.25V324.1M478.02 311.63V358.56M479.86 324.42V347.16M481.7 325.63V344.5" stroke="#ef5350" stroke-width="3.1" fill="none"/>
<path d="M483.54 322.53V334.6M485.38 312.64V330.84" stroke="#26a69a" stroke-width="2.6" fill="none"/><path d="M483.54 324.43V331.42M485.38 314.47V330.53" stroke="#26a69a" stroke-width="3.1" fill="none"/>
<path d="M487.22 295.96V321.74" stroke="#ef5350" stroke-width="2.6" fill="none"/><path d="M487.22 297.11V317.48" stroke="#ef5350" stroke-width="3.1" fill="none"/>
<path d="M489.06 287.77V309.61" stroke="#26a69a" stroke-width="2.6" fill="none"/><path d="M489.06 290.05V303.96" stroke="#26a69a" stroke-width="3.1" fill="none"/>
<path d="M490.9 287.77V309.61M492.74 300.51V315.68" stroke="#ef5350" stroke-width="2.6" fill="none"/><path d="M490.9 289.76V304.6M492.74 303.47V313.58" stroke="#ef5350" stroke-width="3.1" fill="none"/>
<path d="M494.58 302.03V314.16" stroke="#26a69a" stroke-width="2.6" fill="none"/><path d="M494.58 302.72V313.28" stroke="#26a69a" stroke-width="3.1" fill="none"/>
<path d="M517.96 296.87V342.98M519.8 321.74V367.24M521.64 328.51V350.91M523.48 333.88V370.27M525.32 340.54V366.2M527.16 339.94V370.27M529.0 352.07V379.37M530.84 360.75V379.78M532.68 358.14V382.41M534.52 361.17V397.57" stroke="#ef5350" stroke-width="2.6" fill="none"/><path d="M517.96 304.89V339.43M519.8 337.61V360.07M521.64 331.19V350.19M523.48 337.17V363.02M525.32 344.26V361.49M527.16 343.53V369.61M529.0 361.32V378.17M530.84 362.19V377.97M532.68 361.54V378.62M534.52 371.99V386.45" stroke="#ef5350" stroke-width="3.1" fill="none"/>
<path d="M536.36 372.11V388.71M538.2 355.11V389.99" stroke="#26a69a" stroke-width="2.6" fill="none"/><path d="M536.36 377.31V385.96M538.2 355.11V385.21" stroke="#26a69a" stroke-width="3.1" fill="none"/>
<path d="M540.04 345.65V380.88" stroke="#ef5350" stroke-width="2.6" fill="none"/><path d="M540.04 357.64V377.81" stroke="#ef5350" stroke-width="3.1" fill="none"/>
<path d="M541.88 321.74V373.31M543.72 322.46V354.5M545.56 317.19V342.98M547.4 309.61V333.88M549.24 309.61V333.88M551.08 299.0V330.84M552.92 308.37V326.4M554.76 297.48V339.94M556.6 309.61V336.91M558.44 303.57V331.16" stroke="#26a69a" stroke-width="2.6" fill="none"/><path d="M541.88 324.53V363.88M543.72 329.72V345.92M545.56 322.17V342.62M547.4 311.59V326.06M549.24 312.19V332.79M551.08 306.09V323.06M552.92 312.05V323.96M554.76 306.41V339.79M556.6 314.01V327.75M558.44 305.83V328.77" stroke="#26a69a" stroke-width="3.1" fill="none"/>
<path d="M560.28 285.35V327.81" stroke="#ef5350" stroke-width="2.6" fill="none"/><path d="M560.28 295.82V323.24" stroke="#ef5350" stroke-width="3.1" fill="none"/>
<path d="M562.12 275.43V307.49M563.96 248.95V300.51M565.8 203.45V258.05M567.64 208.82V228.31M569.48 189.81V212.55" stroke="#26a69a" stroke-width="2.6" fill="none"/><path d="M562.12 280.14V304.61M563.96 265.65V296.42M565.8 209.91V250.01M567.64 213.86V224.86M569.48 197.53V210.07" stroke="#26a69a" stroke-width="3.1" fill="none"/>
<path d="M571.32 184.65V203.45" stroke="#ef5350" stroke-width="2.6" fill="none"/><path d="M571.32 186.17V202.0" stroke="#ef5350" stroke-width="3.1" fill="none"/>
<path d="M593.79 192.23V218.62M595.63 197.59V209.03M597.47 197.39V215.59M599.31 200.42V239.85" stroke="#ef5350" stroke-width="2.6" fill="none"/><path d="M593.79 194.96V209.83M595.63 199.26V206.37M597.47 198.32V213.08M599.31 213.86V237.89" stroke="#ef5350" stroke-width="3.1" fill="none"/>
<path d="M601.15 223.68V237.96" stroke="#26a69a" stroke-width="2.6" fill="none"/><path d="M601.15 228.17V233.54" stroke="#26a69a" stroke-width="3.1" fill="none"/>
<path d="M602.99 227.72V251.98M604.83 233.79V300.51M606.67 269.15V297.62M608.51 264.12V318.71M610.35 280.31V309.86" stroke="#ef5350" stroke-width="2.6" fill="none"/><path d="M602.99 236.19V244.07M604.83 238.12V278.66M606.67 272.92V293.89M608.51 267.35V318.66M610.35 281.59V299.89" stroke="#ef5350" stroke-width="3.1" fill="none"/>
<path d="M612.19 261.08V306.58" stroke="#26a69a" stroke-width="2.6" fill="none"/><path d="M612.19 266.76V293.5" stroke="#26a69a" stroke-width="3.1" fill="none"/>
<path d="M614.03 270.18V323.26M615.87 291.85V319.69M617.71 282.31V318.71M619.55 287.81V311.18M621.39 291.41V315.68M623.23 294.45V315.68M625.07 294.45V315.68M626.91 293.95V310.93M628.75 288.38V321.74" stroke="#ef5350" stroke-width="2.6" fill="none"/><path d="M614.03 278.22V322.35M615.87 293.73V316.14M617.71 282.7V313.48M619.55 288.1V310.67M621.39 293.6V309.33M623.23 296.97V313.65M625.07 299.03V313.73M626.91 293.97V306.44M628.75 295.78V310.73" stroke="#ef5350" stroke-width="3.1" fill="none"/>
<path d="M630.59 293.81V308.07M632.43 288.38V309.61M634.27 285.72V313.05M636.11 282.31V321.74M637.95 265.63V294.45M639.79 267.61V279.71M641.63 264.12V282.31M643.47 258.38V278.51M645.31 250.47V276.25" stroke="#26a69a" stroke-width="2.6" fill="none"/><path d="M630.59 298.58V303.31M632.43 290.25V306.42M634.27 293.4V305.99M636.11 292.98V313.36M637.95 268.86V290.8M639.79 270.8V278.66M641.63 264.33V278.79M643.47 265.34V276.65M645.31 251.34V271.75" stroke="#26a69a" stroke-width="3.1" fill="none"/>
<path d="M647.15 258.05V273.22" stroke="#ef5350" stroke-width="2.6" fill="none"/><path d="M647.15 260.42V271.97" stroke="#ef5350" stroke-width="3.1" fill="none"/>
<path d="M670.52 264.12V294.45M672.36 269.9V295.75" stroke="#ef5350" stroke-width="2.6" fill="none"/><path d="M670.52 270.7V287.29M672.36 271.0V288.14" stroke="#ef5350" stroke-width="3.1" fill="none"/>
<path d="M674.2 268.67V300.51" stroke="#26a69a" stroke-width="2.6" fill="none"/><path d="M674.2 274.98V296.36" stroke="#26a69a" stroke-width="3.1" fill="none"/>
<path d="M676.04 273.23V290.42M677.88 270.18V302.03M679.72 274.62V300.56M681.56 274.73V302.03M683.4 282.3V307.73" stroke="#ef5350" stroke-width="2.6" fill="none"/><path d="M676.04 274.71V289.5M677.88 276.63V298.39M679.72 276.72V293.22M681.56 284.2V301.05M683.4 290.44V307.38" stroke="#ef5350" stroke-width="3.1" fill="none"/>
<path d="M685.24 279.28V312.64" stroke="#26a69a" stroke-width="2.6" fill="none"/><path d="M685.24 280.67V310.43" stroke="#26a69a" stroke-width="3.1" fill="none"/>
<path d="M687.08 260.48V305.06" stroke="#ef5350" stroke-width="2.6" fill="none"/><path d="M687.08 269.58V290.55" stroke="#ef5350" stroke-width="3.1" fill="none"/>
<path d="M688.92 264.15V294.05" stroke="#26a69a" stroke-width="2.6" fill="none"/><path d="M688.92 266.87V285.91" stroke="#26a69a" stroke-width="3.1" fill="none"/>
<path d="M690.76 264.12V279.28" stroke="#ef5350" stroke-width="2.6" fill="none"/><path d="M690.76 264.68V276.12" stroke="#ef5350" stroke-width="3.1" fill="none"/>
<path d="M692.6 263.19V271.5M694.44 255.02V270.18M696.28 249.27V259.32M698.12 233.79V264.12" stroke="#26a69a" stroke-width="2.6" fill="none"/><path d="M692.6 263.6V270.9M694.44 258.2V266.72M696.28 251.65V258.67M698.12 235.94V255.67" stroke="#26a69a" stroke-width="3.1" fill="none"/>
<path d="M699.96 241.13V251.96M701.8 245.92V261.08" stroke="#ef5350" stroke-width="2.6" fill="none"/><path d="M699.96 242.63V249.88M701.8 246.4V260.21" stroke="#ef5350" stroke-width="3.1" fill="none"/>
<path d="M710.56 244.4V251.98" stroke="#ef5350" stroke-width="2.6" fill="none"/><path d="M710.56 245.49V251.23" stroke="#ef5350" stroke-width="3.1" fill="none"/>
<path d="M712.4 241.37V264.12M714.24 242.61V257.14M716.08 233.79V259.57M717.92 246.26V257.71M719.76 233.79V258.05M721.6 241.06V249.79M723.44 238.33V247.43" stroke="#26a69a" stroke-width="2.6" fill="none"/><path d="M712.4 248.96V261.63M714.24 247.01V252.08M716.08 235.56V253.0M717.92 247.96V254.42M719.76 241.28V254.14M721.6 243.02V247.01M723.44 240.32V246.25" stroke="#26a69a" stroke-width="3.1" fill="none"/>
<path d="M746.35 217.1V238.33M748.19 215.59V251.98M750.03 215.59V251.98M751.87 233.79V267.15M753.71 245.92V289.9M755.55 245.92V289.9M757.39 245.92V282.31M759.23 254.55V273.96" stroke="#ef5350" stroke-width="2.6" fill="none"/><path d="M746.35 218.19V236.23M748.19 227.38V250.6M750.03 225.84V239.67M751.87 235.26V256.14M753.71 253.35V289.08M755.55 251.89V275.98M757.39 256.42V280.27M759.23 260.3V268.33" stroke="#ef5350" stroke-width="3.1" fill="none"/>
<path d="M761.07 256.73V275.41M762.91 251.98V285.35" stroke="#26a69a" stroke-width="2.6" fill="none"/><path d="M761.07 260.12V272.9M762.91 254.87V276.88" stroke="#26a69a" stroke-width="3.1" fill="none"/>
<path d="M764.75 248.95V270.18M766.59 258.07V268.76M768.43 245.92V271.7M770.27 252.52V270.46" stroke="#ef5350" stroke-width="2.6" fill="none"/><path d="M764.75 249.26V266.0M766.59 258.51V266.52M768.43 251.58V268.94M770.27 256.66V267.66" stroke="#ef5350" stroke-width="3.1" fill="none"/>
<path d="M772.11 255.02V279.28M773.95 259.2V272.27M775.79 247.43V270.18M777.63 241.28V255.56M779.47 236.21V258.05" stroke="#26a69a" stroke-width="2.6" fill="none"/><path d="M772.11 255.22V274.03M773.95 262.77V270.17M775.79 251.2V269.33M777.63 243.49V253.01M779.47 241.08V257.42" stroke="#26a69a" stroke-width="3.1" fill="none"/>
<path d="M781.31 236.21V268.67" stroke="#ef5350" stroke-width="2.6" fill="none"/><path d="M781.31 245.04V262.86" stroke="#ef5350" stroke-width="3.1" fill="none"/>
<path d="M783.15 233.79V267.15" stroke="#26a69a" stroke-width="2.6" fill="none"/><path d="M783.15 239.67V262.74" stroke="#26a69a" stroke-width="3.1" fill="none"/>
<path d="M784.99 244.36V259.72" stroke="#ef5350" stroke-width="2.6" fill="none"/><path d="M784.99 249.72V255.78" stroke="#ef5350" stroke-width="3.1" fill="none"/>
<path d="M786.83 229.24V255.02M788.67 225.25V251.12" stroke="#26a69a" stroke-width="2.6" fill="none"/><path d="M786.83 230.98V246.16M788.67 226.75V243.98" stroke="#26a69a" stroke-width="3.1" fill="none"/>
<path d="M790.51 217.1V248.95" stroke="#ef5350" stroke-width="2.6" fill="none"/><path d="M790.51 217.83V245.04" stroke="#ef5350" stroke-width="3.1" fill="none"/>
<path d="M792.35 197.39V230.75M794.19 170.09V212.55M796.03 170.09V212.55M797.87 159.48V191.32M799.71 174.64V180.71" stroke="#26a69a" stroke-width="2.6" fill="none"/><path d="M792.35 199.24V220.28M794.19 182.21V210.42M796.03 183.76V209.46M797.87 165.12V187.77M799.71 175.03V180.36" stroke="#26a69a" stroke-width="3.1" fill="none"/>
<path d="M823.37 157.96V201.94" stroke="#ef5350" stroke-width="2.6" fill="none"/><path d="M823.37 168.42V188.16" stroke="#ef5350" stroke-width="3.1" fill="none"/>
<path d="M825.21 159.48V191.32M827.05 159.48V191.32" stroke="#26a69a" stroke-width="2.6" fill="none"/><path d="M825.21 168.22V190.04M827.05 166.57V187.31" stroke="#26a69a" stroke-width="3.1" fill="none"/>
<path d="M828.89 164.02V189.81" stroke="#ef5350" stroke-width="2.6" fill="none"/><path d="M828.89 169.03V184.57" stroke="#ef5350" stroke-width="3.1" fill="none"/>
<path d="M830.73 172.51V184.13M832.57 157.96V179.19M834.41 117.01V173.12M836.25 126.49V149.62M838.09 106.4V139.76M839.93 98.81V133.69M841.77 99.53V113.43M843.61 94.26V115.5M845.45 79.71V106.4M847.29 86.68V109.43" stroke="#26a69a" stroke-width="2.6" fill="none"/><path d="M830.73 175.07V182.53M832.57 159.93V171.83M834.41 124.09V158.11M836.25 126.88V142.98M838.09 113.86V128.27M839.93 106.92V129.88M841.77 102.53V111.33M843.61 100.92V114.51M845.45 85.81V106.19M847.29 89.51V108.58" stroke="#26a69a" stroke-width="3.1" fill="none"/>
<path d="M849.13 103.3V127.9M850.97 96.69V164.02M852.81 123.08V164.02" stroke="#ef5350" stroke-width="2.6" fill="none"/><path d="M849.13 108.38V126.15M850.97 107.88V160.85M852.81 126.57V161.89" stroke="#ef5350" stroke-width="3.1" fill="none"/>
<path d="M854.65 133.81V160.3M856.49 129.14V157.96M858.33 133.35V150.29" stroke="#26a69a" stroke-width="2.6" fill="none"/><path d="M854.65 141.06V156.58M856.49 129.26V151.45M858.33 135.98V144.73" stroke="#26a69a" stroke-width="3.1" fill="none"/>
<path d="M860.17 124.6V151.89" stroke="#ef5350" stroke-width="2.6" fill="none"/><path d="M860.17 126.97V143.26" stroke="#ef5350" stroke-width="3.1" fill="none"/>
<path d="M862.01 116.1V148.86" stroke="#26a69a" stroke-width="2.6" fill="none"/><path d="M862.01 122.2V144.2" stroke="#26a69a" stroke-width="3.1" fill="none"/>
<path d="M863.85 137.29V154.48M865.69 126.11V164.02M867.53 127.63V173.12M869.37 141.61V161.55M871.21 145.83V174.64" stroke="#ef5350" stroke-width="2.6" fill="none"/><path d="M863.85 137.37V151.17M865.69 128.0V161.38M867.53 135.7V162.91M869.37 143.71V161.21M871.21 153.72V167.43" stroke="#ef5350" stroke-width="3.1" fill="none"/>
<path d="M873.05 154.93V182.22" stroke="#26a69a" stroke-width="2.6" fill="none"/><path d="M873.05 162.99V175.1" stroke="#26a69a" stroke-width="3.1" fill="none"/>
<path d="M874.89 159.61V173.49" stroke="#ef5350" stroke-width="2.6" fill="none"/><path d="M874.89 160.71V172.98" stroke="#ef5350" stroke-width="3.1" fill="none"/>
<path d="M876.73 160.99V168.57" stroke="#26a69a" stroke-width="2.6" fill="none"/><path d="M876.73 161.09V167.68" stroke="#26a69a" stroke-width="3.1" fill="none"/>
<path d="M900.72 162.51V208.0M902.56 170.32V186.81M904.4 164.02V182.22" stroke="#26a69a" stroke-width="2.6" fill="none"/><path d="M900.72 173.58V194.54M902.56 172.84V182.26M904.4 165.71V178.13" stroke="#26a69a" stroke-width="3.1" fill="none"/>
<path d="M906.24 168.99V180.09" stroke="#ef5350" stroke-width="2.6" fill="none"/><path d="M906.24 169.04V179.08" stroke="#ef5350" stroke-width="3.1" fill="none"/>
<path d="M908.08 159.48V180.71" stroke="#26a69a" stroke-width="2.6" fill="none"/><path d="M908.08 165.0V173.69" stroke="#26a69a" stroke-width="3.1" fill="none"/>
<path d="M909.92 163.3V180.38M911.76 150.38V182.22M913.6 133.09V197.39M915.44 154.53V200.33" stroke="#ef5350" stroke-width="2.6" fill="none"/><path d="M909.92 165.26V178.95M911.76 157.41V174.5M913.6 155.12V186.82M915.44 161.54V188.71" stroke="#ef5350" stroke-width="3.1" fill="none"/>
<path d="M917.28 147.34V204.97M919.12 151.89V179.19M920.96 154.14V166.42M922.8 153.41V179.19" stroke="#26a69a" stroke-width="2.6" fill="none"/><path d="M917.28 153.55V200.7M919.12 152.64V170.49M920.96 158.13V164.94M922.8 153.67V178.81" stroke="#26a69a" stroke-width="3.1" fill="none"/>
<path d="M924.64 157.96V182.22M926.48 157.96V182.22" stroke="#ef5350" stroke-width="2.6" fill="none"/><path d="M924.64 163.34V176.3M926.48 158.52V177.21" stroke="#ef5350" stroke-width="3.1" fill="none"/>
<path d="M928.32 138.24V186.77" stroke="#26a69a" stroke-width="2.6" fill="none"/><path d="M928.32 152.13V172.85" stroke="#26a69a" stroke-width="3.1" fill="none"/>
<path d="M930.16 155.5V175.46" stroke="#ef5350" stroke-width="2.6" fill="none"/><path d="M930.16 161.89V168.86" stroke="#ef5350" stroke-width="3.1" fill="none"/>
<path d="M932.0 135.21V170.09M933.84 115.5V160.99M935.68 115.5V160.99M937.52 116.1V145.83" stroke="#26a69a" stroke-width="2.6" fill="none"/><path d="M932.0 137.72V168.72M933.84 128.99V148.06M935.68 128.63V150.94M937.52 117.14V144.81" stroke="#26a69a" stroke-width="3.1" fill="none"/>
<path d="M939.36 127.63V141.26M941.2 130.66V151.89M943.04 124.6V154.93M944.88 118.31V177.65M946.72 94.26V215.59M948.56 142.79V179.19M950.4 150.38V315.68M952.24 299.0V321.14" stroke="#ef5350" stroke-width="2.6" fill="none"/><path d="M939.36 129.65V141.16M941.2 132.76V146.57M943.04 128.0V144.69M944.88 118.96V169.08M946.72 127.09V200.86M948.56 149.65V176.43M950.4 155.63V268.25M952.24 299.01V319.57" stroke="#ef5350" stroke-width="3.1" fill="none"/>
<path d="M976.54 337.52V429.42M978.38 396.05V433.97M980.22 400.6V465.81M982.06 422.54V454.11" stroke="#ef5350" stroke-width="2.6" fill="none"/><path d="M976.54 368.97V429.28M978.38 402.58V423.39M980.22 411.89V457.89M982.06 425.68V451.74" stroke="#ef5350" stroke-width="3.1" fill="none"/>
<path d="M983.9 399.09V446.1M985.74 391.5V430.93" stroke="#26a69a" stroke-width="2.6" fill="none"/><path d="M983.9 407.29V444.29M985.74 392.62V420.06" stroke="#26a69a" stroke-width="3.1" fill="none"/>
<path d="M987.58 386.96V422.69M989.42 373.31V421.84M991.26 367.24V473.4M993.1 433.97V494.63M994.94 467.33V506.76M996.78 467.33V506.76M998.62 485.53V524.96" stroke="#ef5350" stroke-width="2.6" fill="none"/><path d="M987.58 391.41V417.67M989.42 388.43V420.37M991.26 368.18V465.74M993.1 453.1V483.99M994.94 479.53V503.54M996.78 474.67V496.35M998.62 494.45V520.15" stroke="#ef5350" stroke-width="3.1" fill="none"/>
<path d="M1000.46 494.63V531.03M1002.3 468.48V516.94M1004.14 437.0V524.96" stroke="#26a69a" stroke-width="2.6" fill="none"/><path d="M1000.46 496.61V520.28M1002.3 475.92V503.82M1004.14 440.88V510.74" stroke="#26a69a" stroke-width="3.1" fill="none"/>
<path d="M1005.98 418.8V479.46" stroke="#ef5350" stroke-width="2.6" fill="none"/><path d="M1005.98 423.85V475.4" stroke="#ef5350" stroke-width="3.1" fill="none"/>
<path d="M1007.82 448.07V489.57" stroke="#26a69a" stroke-width="2.6" fill="none"/><path d="M1007.82 450.31V487.31" stroke="#26a69a" stroke-width="3.1" fill="none"/>
<path d="M1009.66 449.13V499.18" stroke="#ef5350" stroke-width="2.6" fill="none"/><path d="M1009.66 454.85V490.03" stroke="#ef5350" stroke-width="3.1" fill="none"/>
<path d="M1011.5 452.17V490.08" stroke="#26a69a" stroke-width="2.6" fill="none"/><path d="M1011.5 456.52V487.57" stroke="#26a69a" stroke-width="3.1" fill="none"/>
<path d="M1013.34 452.51V487.12M1015.18 450.65V503.73" stroke="#ef5350" stroke-width="2.6" fill="none"/><path d="M1013.34 464.17V485.89M1015.18 468.93V488.96" stroke="#ef5350" stroke-width="3.1" fill="none"/>
<path d="M1017.02 466.06V490.84M1018.86 470.36V500.69M1020.7 423.35V479.46M1022.54 412.74V443.07M1024.38 397.57V430.93M1026.22 373.31V412.74M1028.06 373.31V412.74M1029.9 371.18V388.47" stroke="#26a69a" stroke-width="2.6" fill="none"/><path d="M1017.02 471.59V489.91M1018.86 474.49V500.33M1020.7 438.89V465.84M1022.54 419.45V438.15M1024.38 404.62V426.21M1026.22 385.84V406.8M1028.06 383.64V406.92M1029.9 375.55V383.15" stroke="#26a69a" stroke-width="3.1" fill="none"/>
<path d="M1062.07 319.32V332.36" stroke="#ef5350" stroke-width="2.6" fill="none"/><path d="M1062.07 322.51V328.47" stroke="#ef5350" stroke-width="3.1" fill="none"/>
<path d="M1063.91 320.23V338.43M1065.75 299.0V339.94M1067.59 299.0V339.94M1069.43 291.41V326.29M1071.27 296.62V320.3M1073.11 294.45V324.78M1074.95 267.15V312.64M1076.79 242.88V288.38M1078.63 245.47V279.71M1080.47 242.88V274.73M1082.31 235.3V267.15M1084.15 235.3V267.15M1085.99 220.14V253.5M1087.83 217.41V248.14M1089.67 211.95V247.43" stroke="#26a69a" stroke-width="2.6" fill="none"/><path d="M1063.91 324.31V335.53M1065.75 308.0V338.54M1067.59 310.21V329.72M1069.43 294.47V321.12M1071.27 302.22V312.59M1073.11 301.39V316.52M1074.95 274.95V297.13M1076.79 251.54V285.82M1078.63 246.68V272.83M1080.47 250.88V269.02M1082.31 244.54V261.33M1084.15 245.87V264.81M1085.99 224.72V244.59M1087.83 218.02V245.19M1089.67 212.11V242.24" stroke="#26a69a" stroke-width="3.1" fill="none"/>
<path d="M1091.51 215.59V262.6M1093.35 215.59V262.6M1095.19 227.72V251.98M1097.03 230.75V264.12" stroke="#ef5350" stroke-width="2.6" fill="none"/><path d="M1091.51 227.08V256.81M1093.35 219.28V250.4M1095.19 232.2V250.12M1097.03 235.33V261.64" stroke="#ef5350" stroke-width="3.1" fill="none"/>
<path d="M1098.87 230.75V264.12M1100.71 224.69V258.05M1102.55 222.64V249.93M1104.39 218.62V247.43M1106.23 217.1V227.72" stroke="#26a69a" stroke-width="2.6" fill="none"/><path d="M1098.87 239.82V254.66M1100.71 230.16V251.49M1102.55 228.74V242.11M1104.39 223.34V244.47M1106.23 217.57V224.62" stroke="#26a69a" stroke-width="3.1" fill="none"/>
<path d="M1130.61 215.59V282.31M1132.45 239.85V306.58M1134.29 277.89V306.93M1136.13 264.12V326.29M1137.97 282.31V321.74M1139.81 298.44V330.25M1141.65 318.71V355.11M1143.49 334.78V362.6M1145.33 342.98V417.29M1147.17 385.44V418.8M1149.01 392.24V432.95M1150.85 388.47V452.17M1152.69 412.74V497.66M1154.53 412.74V497.66M1156.37 379.37V494.63M1158.21 423.4V477.01" stroke="#ef5350" stroke-width="2.6" fill="none"/><path d="M1130.61 235.45V276.07M1132.45 245.77V296.63M1134.29 280.75V304.44M1136.13 274.55V316.97M1137.97 291.41V316.74M1139.81 307.66V320.17M1141.65 320.5V344.52M1143.49 344.05V356.21M1145.33 345.62V413.57M1147.17 394.5V414.76M1149.01 394.63V420.25M1150.85 405.89V437.26M1152.69 436.16V472.73M1154.53 433.33V481.88M1156.37 397.06V459.02M1158.21 426.02V467.76" stroke="#ef5350" stroke-width="3.1" fill="none"/>
<path d="M1160.05 441.55V518.89" stroke="#26a69a" stroke-width="2.6" fill="none"/><path d="M1160.05 454.19V514.98" stroke="#26a69a" stroke-width="3.1" fill="none"/>
<path d="M1161.89 449.13V524.96M1163.73 449.13V524.96" stroke="#ef5350" stroke-width="2.6" fill="none"/><path d="M1161.89 462.35V510.64M1163.73 449.31V502.65" stroke="#ef5350" stroke-width="3.1" fill="none"/>
<path d="M1165.57 461.26V521.93" stroke="#26a69a" stroke-width="2.6" fill="none"/><path d="M1165.57 473.21V507.8" stroke="#26a69a" stroke-width="3.1" fill="none"/>
<path d="M1167.41 458.3V502.5M1169.25 437.0V515.86M1171.09 485.53V508.28" stroke="#ef5350" stroke-width="2.6" fill="none"/><path d="M1167.41 473.16V501.34M1169.25 454.56V515.07M1171.09 490.96V500.86" stroke="#ef5350" stroke-width="3.1" fill="none"/>
<path d="M1172.93 473.62V503.09M1174.77 455.2V500.69M1176.61 450.06V491.56" stroke="#26a69a" stroke-width="2.6" fill="none"/><path d="M1172.93 478.62V493.83M1174.77 466.63V490.74M1176.61 456.95V483.93" stroke="#26a69a" stroke-width="3.1" fill="none"/>
<path d="M1178.45 443.07V494.63M1180.29 470.36V509.79M1182.13 494.63V509.79" stroke="#ef5350" stroke-width="2.6" fill="none"/><path d="M1178.45 446.87V486.77M1180.29 478.01V498.38M1182.13 499.02V507.65" stroke="#ef5350" stroke-width="3.1" fill="none"/>
<path d="M1205.83 473.4V499.18" stroke="#26a69a" stroke-width="2.6" fill="none"/><path d="M1205.83 475.85V494.61" stroke="#26a69a" stroke-width="3.1" fill="none"/>
<path d="M1207.67 458.23V485.53" stroke="#ef5350" stroke-width="2.6" fill="none"/><path d="M1207.67 464.49V477.96" stroke="#ef5350" stroke-width="3.1" fill="none"/>
<path d="M1209.51 454.41V470.13M1211.35 444.58V470.36" stroke="#26a69a" stroke-width="2.6" fill="none"/><path d="M1209.51 457.64V466.63M1211.35 444.94V463.84" stroke="#26a69a" stroke-width="3.1" fill="none"/>
<path d="M1213.19 452.17V473.4" stroke="#ef5350" stroke-width="2.6" fill="none"/><path d="M1213.19 456.22V473.03" stroke="#ef5350" stroke-width="3.1" fill="none"/>
<path d="M1215.03 437.0V464.3" stroke="#26a69a" stroke-width="2.6" fill="none"/><path d="M1215.03 437.06V462.48" stroke="#26a69a" stroke-width="3.1" fill="none"/>
<path d="M1216.87 447.06V468.9M1218.71 449.13V484.01M1220.55 461.26V503.73" stroke="#ef5350" stroke-width="2.6" fill="none"/><path d="M1216.87 453.09V461.94M1218.71 456.66V476.36M1220.55 470.13V493.61" stroke="#ef5350" stroke-width="3.1" fill="none"/>
<path d="M1222.39 447.17V486.22M1224.23 426.38V485.53" stroke="#26a69a" stroke-width="2.6" fill="none"/><path d="M1222.39 457.59V484.83M1224.23 427.15V469.5" stroke="#26a69a" stroke-width="3.1" fill="none"/>
<path d="M1226.07 430.93V464.3M1227.91 438.52V480.98" stroke="#ef5350" stroke-width="2.6" fill="none"/><path d="M1226.07 438.59V459.99M1227.91 450.21V472.63" stroke="#ef5350" stroke-width="3.1" fill="none"/>
<path d="M1229.75 440.04V462.86M1231.59 424.87V458.23M1233.43 393.02V433.97M1235.27 367.24V406.67M1237.11 367.24V406.67M1238.95 341.46V379.37M1240.79 336.91V385.44" stroke="#26a69a" stroke-width="2.6" fill="none"/><path d="M1229.75 442.59V459.42M1231.59 435.77V457.59M1233.43 393.59V432.26M1235.27 375.18V393.99M1237.11 367.43V401.33M1238.95 353.9V366.36M1240.79 343.91V383.71" stroke="#26a69a" stroke-width="3.1" fill="none"/>
<path d="M1242.63 342.39V368.47" stroke="#ef5350" stroke-width="2.6" fill="none"/><path d="M1242.63 342.54V368.43" stroke="#ef5350" stroke-width="3.1" fill="none"/>
<path d="M1244.47 341.46V388.47M1246.31 339.94V370.27M1248.15 343.44V363.72M1249.99 344.49V365.72" stroke="#26a69a" stroke-width="2.6" fill="none"/><path d="M1244.47 343.46V372.57M1246.31 349.17V368.9M1248.15 348.65V362.39M1249.99 350.24V360.42" stroke="#26a69a" stroke-width="3.1" fill="none"/>
<path d="M1251.83 326.29V364.21M1253.67 318.71V373.31M1255.51 348.05V374.31" stroke="#ef5350" stroke-width="2.6" fill="none"/><path d="M1251.83 335.98V363.09M1253.67 332.26V364.51M1255.51 354.64V374.2" stroke="#ef5350" stroke-width="3.1" fill="none"/>
<path d="M1257.35 344.49V377.86M1259.19 353.67V366.46" stroke="#26a69a" stroke-width="2.6" fill="none"/><path d="M1257.35 352.09V368.31M1259.19 354.42V362.61" stroke="#26a69a" stroke-width="3.1" fill="none"/>
<path d="M1282.87 388.47V422.44M1284.71 362.69V408.19M1286.55 362.69V408.19" stroke="#26a69a" stroke-width="2.6" fill="none"/><path d="M1282.87 389.18V418.07M1284.71 369.68V397.41M1286.55 375.39V402.4" stroke="#26a69a" stroke-width="3.1" fill="none"/>
<path d="M1288.39 355.11V391.5" stroke="#ef5350" stroke-width="2.6" fill="none"/><path d="M1288.39 363.13V386.18" stroke="#ef5350" stroke-width="3.1" fill="none"/>
<path d="M1290.23 374.82V408.19M1292.07 367.24V391.23M1293.91 350.56V385.44M1295.75 285.35V358.14M1297.59 291.43V324.38" stroke="#26a69a" stroke-width="2.6" fill="none"/><path d="M1290.23 384.0V397.15M1292.07 367.75V383.05M1293.91 360.66V381.38M1295.75 310.25V336.96M1297.59 301.67V320.03" stroke="#26a69a" stroke-width="3.1" fill="none"/>
<path d="M1299.43 278.67V321.74M1301.27 300.51V327.81" stroke="#ef5350" stroke-width="2.6" fill="none"/><path d="M1299.43 287.75V308.24M1301.27 303.22V327.79" stroke="#ef5350" stroke-width="3.1" fill="none"/>
<path d="M1303.11 304.35V326.88M1304.95 292.93V336.91M1306.79 269.81V310.73M1308.63 244.4V312.64M1310.47 245.01V276.25" stroke="#26a69a" stroke-width="2.6" fill="none"/><path d="M1303.11 310.79V319.88M1304.95 305.76V324.41M1306.79 282.0V299.17M1308.63 266.23V304.36M1310.47 251.06V267.53" stroke="#26a69a" stroke-width="3.1" fill="none"/>
<path d="M1312.31 260.55V288.07M1314.15 264.12V303.55M1315.99 276.25V312.64M1317.83 291.84V308.08" stroke="#ef5350" stroke-width="2.6" fill="none"/><path d="M1312.31 262.8V282.22M1314.15 270.54V300.69M1315.99 285.82V302.56M1317.83 296.23V306.75" stroke="#ef5350" stroke-width="3.1" fill="none"/>
<path d="M1319.67 280.8V309.61M1321.51 280.84V304.67M1323.35 268.67V309.61" stroke="#26a69a" stroke-width="2.6" fill="none"/><path d="M1319.67 289.84V300.69M1321.51 282.41V303.07M1323.35 278.71V304.41" stroke="#26a69a" stroke-width="3.1" fill="none"/>
<path d="M1325.19 283.83V312.64" stroke="#ef5350" stroke-width="2.6" fill="none"/><path d="M1325.19 287.89V307.43" stroke="#ef5350" stroke-width="3.1" fill="none"/>
<path d="M1327.03 304.51V318.05M1328.87 297.48V326.29M1330.71 281.71V305.06M1332.55 281.71V305.06" stroke="#26a69a" stroke-width="2.6" fill="none"/><path d="M1327.03 306.28V317.55M1328.87 305.42V324.72M1330.71 284.53V300.82M1332.55 281.98V296.97" stroke="#26a69a" stroke-width="3.1" fill="none"/>
<path d="M1334.39 283.83V303.55" stroke="#ef5350" stroke-width="2.6" fill="none"/><path d="M1334.39 287.19V299.63" stroke="#ef5350" stroke-width="3.1" fill="none"/>
<path d="M1336.23 283.83V299.0" stroke="#26a69a" stroke-width="2.6" fill="none"/><path d="M1336.23 287.97V296.74" stroke="#26a69a" stroke-width="3.1" fill="none"/>
<path d="M1359.0 245.92V286.86M1360.84 230.75V279.28" stroke="#ef5350" stroke-width="2.6" fill="none"/><path d="M1359.0 256.91V275.13M1360.84 235.07V278.64" stroke="#ef5350" stroke-width="3.1" fill="none"/>
<path d="M1362.68 212.11V238.86M1364.52 185.86V238.33" stroke="#26a69a" stroke-width="2.6" fill="none"/><path d="M1362.68 212.59V233.64M1364.52 194.28V220.94" stroke="#26a69a" stroke-width="3.1" fill="none"/>
<path d="M1366.36 186.77V227.72" stroke="#ef5350" stroke-width="2.6" fill="none"/><path d="M1366.36 187.69V219.15" stroke="#ef5350" stroke-width="3.1" fill="none"/>
<path d="M1368.2 208.42V226.2" stroke="#26a69a" stroke-width="2.6" fill="none"/><path d="M1368.2 210.02V222.68" stroke="#26a69a" stroke-width="3.1" fill="none"/>
<path d="M1370.04 195.87V226.2" stroke="#ef5350" stroke-width="2.6" fill="none"/><path d="M1370.04 206.03V219.09" stroke="#ef5350" stroke-width="3.1" fill="none"/>
<path d="M1371.88 196.78V226.2" stroke="#26a69a" stroke-width="2.6" fill="none"/><path d="M1371.88 201.4V224.56" stroke="#26a69a" stroke-width="3.1" fill="none"/>
<path d="M1373.72 187.13V218.06" stroke="#ef5350" stroke-width="2.6" fill="none"/><path d="M1373.72 187.55V215.29" stroke="#ef5350" stroke-width="3.1" fill="none"/>
<path d="M1375.56 173.12V214.07" stroke="#26a69a" stroke-width="2.6" fill="none"/><path d="M1375.56 186.06V201.11" stroke="#26a69a" stroke-width="3.1" fill="none"/>
<path d="M1377.4 174.64V204.97M1379.24 184.08V206.55M1381.08 179.19V209.52M1382.92 193.53V214.61M1384.76 192.84V221.65M1386.6 200.42V242.88M1388.44 215.59V242.88M1390.28 215.59V242.88" stroke="#ef5350" stroke-width="2.6" fill="none"/><path d="M1377.4 175.14V196.62M1379.24 184.52V205.42M1381.08 189.16V202.34M1382.92 194.31V212.22M1384.76 194.09V216.8M1386.6 203.97V240.76M1388.44 215.71V236.03M1390.28 215.93V234.02" stroke="#ef5350" stroke-width="3.1" fill="none"/>
<path d="M1392.12 224.69V268.67M1393.96 225.34V243.81M1395.8 211.04V239.85M1397.64 183.74V218.62M1399.48 186.11V202.42M1401.32 180.71V206.49M1403.16 180.67V199.2M1405.0 177.67V209.52M1406.84 170.09V212.55" stroke="#26a69a" stroke-width="2.6" fill="none"/><path d="M1392.12 239.06V255.32M1393.96 225.97V237.81M1395.8 217.37V235.29M1397.64 193.79V212.79M1399.48 186.43V198.35M1401.32 182.01V198.63M1403.16 182.42V193.75M1405.0 179.54V204.05M1406.84 183.51V210.86" stroke="#26a69a" stroke-width="3.1" fill="none"/>
<path d="M1408.68 165.54V215.59" stroke="#ef5350" stroke-width="2.6" fill="none"/><path d="M1408.68 166.54V199.91" stroke="#ef5350" stroke-width="3.1" fill="none"/>
<path d="M1410.52 178.02V200.07M1412.36 173.12V203.45" stroke="#26a69a" stroke-width="2.6" fill="none"/><path d="M1410.52 180.23V198.08M1412.36 176.99V192.93" stroke="#26a69a" stroke-width="3.1" fill="none"/>
<path d="M1414.2 174.64V186.77" stroke="#ef5350" stroke-width="2.6" fill="none"/><path d="M1414.2 178.57V186.36" stroke="#ef5350" stroke-width="3.1" fill="none"/>
<path d="M1435.43 114.89V151.89" stroke="#26a69a" stroke-width="2.6" fill="none"/><path d="M1435.43 126.5V151.15" stroke="#26a69a" stroke-width="3.1" fill="none"/>
<path d="M1437.27 115.5V145.83" stroke="#ef5350" stroke-width="2.6" fill="none"/><path d="M1437.27 118.61V135.44" stroke="#ef5350" stroke-width="3.1" fill="none"/>
<path d="M1439.11 115.5V145.83" stroke="#26a69a" stroke-width="2.6" fill="none"/><path d="M1439.11 124.06V142.21" stroke="#26a69a" stroke-width="3.1" fill="none"/>
<path d="M1440.95 124.6V160.99M1442.79 133.69V174.64M1444.63 161.17V179.22M1446.47 173.12V197.39" stroke="#ef5350" stroke-width="2.6" fill="none"/><path d="M1440.95 124.62V150.39M1442.79 136.36V168.4M1444.63 162.04V178.08M1446.47 179.17V195.72" stroke="#ef5350" stroke-width="3.1" fill="none"/>
<path d="M1448.31 174.64V217.1M1450.15 177.61V202.43M1451.99 173.12V217.1M1453.83 160.99V209.52M1455.67 173.81V190.47M1457.51 156.44V176.16" stroke="#26a69a" stroke-width="2.6" fill="none"/><path d="M1448.31 175.94V208.06M1450.15 182.93V196.28M1451.99 182.1V213.99M1453.83 173.44V202.59M1455.67 175.76V185.56M1457.51 159.84V176.05" stroke="#26a69a" stroke-width="3.1" fill="none"/>
<path d="M1459.35 146.43V168.57" stroke="#ef5350" stroke-width="2.6" fill="none"/><path d="M1459.35 150.13V161.82" stroke="#ef5350" stroke-width="3.1" fill="none"/>
<path d="M90.62 430.33 L98.2 431.54 L110.33 433.97 L134.6 433.97 L148.24 431.84 L164.93 428.51 L186.16 423.96 L211.03 423.35 L222.55 419.41 L234.69 414.25 L245.3 405.15 L255.92 393.02 L263.5 387.56 L287.76 386.35 L304.45 374.82 L322.64 365.72 L340.84 358.14 L363.59 357.53 L372.69 356.62 L389.37 352.98 L430.02 352.68 L445.17 352.68 L457.3 348.43 L470.95 342.37 L493.69 338.73 L517.96 338.73 L530.09 339.94 L543.74 341.46 L563.45 338.43 L570.13 333.27 L593.79 331.75 L604.4 326.29 L627.15 322.35 L646.86 318.71 L678.71 317.19 L702.07 311.73 L710.56 311.13 L722.69 307.19 L746.35 305.97 L763.64 302.03 L780.02 297.48 L792.13 294.45 L799.71 289.9 L823.98 288.38 L834.6 281.71 L854.31 264.12 L876.45 251.68 L900.72 251.07 L919.52 241.37 L937.72 233.18 L949.24 228.02 L953.49 229.84 L977.15 231.66 L992.31 248.95 L1012.03 270.18 L1024.16 282.31 L1030.23 286.56 L1062.07 286.56 L1074.21 288.38 L1089.37 285.35 L1106.05 280.8 L1130.02 280.49 L1139.1 280.8 L1148.2 284.74 L1163.36 300.51 L1183.08 318.1 L1205.83 319.32 L1231.61 336.91 L1243.74 339.34 L1283.17 342.37 L1295.3 343.58 L1311.98 338.43 L1336.25 333.27 L1359.0 332.66 L1369.61 326.29 L1384.78 317.19 L1412.07 300.51 L1435.73 299.0 L1445.44 292.93 L1460.3 283.83" stroke="#9c27b0" stroke-width="1.8" fill="none" stroke-linejoin="round"/>
<path d="M90.62 430.02 L98.2 435.48 L107.3 441.55 L111.85 443.07 L134.6 442.16 L140.66 438.52 L148.24 432.45 L155.83 429.42 L167.96 418.2 L177.06 412.74 L187.67 407.58 L211.03 406.67 L214.97 403.64 L225.59 389.99 L237.11 377.25 L243.79 358.14 L249.85 338.43 L255.92 321.74 L260.47 315.07 L265.02 312.04 L287.76 310.22 L292.31 305.06 L301.41 294.45 L310.51 292.93 L322.64 288.99 L331.74 287.77 L342.36 288.38 L363.59 289.9 L372.69 298.09 L380.27 300.51 L387.86 302.03 L398.47 311.13 L404.54 318.1 L416.67 326.29 L430.02 326.9 L442.13 327.51 L454.26 320.23 L463.36 308.1 L469.43 303.55 L478.53 305.06 L486.11 308.1 L517.35 308.7 L527.06 317.19 L539.8 329.93 L557.39 326.29 L563.45 315.68 L570.13 305.06 L593.79 301.12 L602.88 287.77 L611.98 286.86 L627.15 291.41 L637.76 292.93 L646.86 288.38 L670.52 288.08 L684.78 288.38 L692.36 285.35 L702.07 279.89 L710.56 278.67 L722.69 271.09 L746.35 269.27 L753.02 267.15 L762.12 267.45 L780.02 263.51 L789.1 260.48 L799.71 245.92 L823.98 242.88 L833.08 229.24 L848.24 194.36 L866.44 176.76 L876.45 174.64 L900.72 174.64 L928.62 171.0 L945.3 160.39 L949.85 160.99 L952.88 172.21 L977.15 181.62 L989.28 236.82 L1004.45 305.06 L1018.1 352.07 L1027.19 363.6 L1062.07 362.69 L1075.72 346.01 L1090.89 318.71 L1106.05 295.96 L1130.02 293.54 L1134.55 290.81 L1143.65 295.96 L1152.75 315.68 L1163.36 349.04 L1173.98 378.77 L1183.08 396.96 L1205.83 400.6 L1220.99 417.29 L1231.61 425.47 L1243.74 411.22 L1259.81 396.05 L1283.17 396.05 L1292.27 393.02 L1308.95 364.21 L1324.12 344.49 L1336.25 333.27 L1359.0 330.24 L1369.61 309.61 L1384.78 277.76 L1396.91 264.12 L1412.07 243.49 L1435.73 238.33 L1442.41 227.72 L1451.5 220.14 L1460.3 211.95" stroke="#2196f3" stroke-width="1.8" fill="none" stroke-linejoin="round"/>
<path d="M90.62 429.42 L96.68 441.55 L101.23 449.13 L105.78 453.68 L110.33 454.59 L134.6 451.26 L140.66 441.55 L148.24 430.93 L155.83 423.35 L163.41 409.7 L170.39 399.09 L177.06 396.05 L183.12 393.02 L189.19 392.41 L211.03 390.9 L214.97 386.95 L222.55 373.31 L228.62 362.69 L234.69 353.59 L239.24 336.91 L243.79 309.61 L248.33 282.31 L252.28 265.63 L255.31 261.08 L258.95 259.57 L263.5 262.6 L287.76 261.69 L292.31 257.44 L296.86 255.02 L300.81 254.11 L304.45 259.57 L309.91 269.27 L315.06 269.27 L319.61 271.7 L325.68 274.73 L333.26 276.25 L340.84 279.89 L363.59 284.74 L366.62 291.41 L371.17 303.55 L375.72 307.19 L383.31 306.58 L387.86 309.61 L392.41 315.68 L398.47 326.29 L403.02 336.3 L407.57 339.94 L410.6 344.49 L416.67 343.58 L430.02 344.19 L441.22 344.8 L445.17 338.43 L452.75 318.71 L460.33 300.51 L467.91 286.86 L473.98 291.41 L478.53 299.0 L486.11 305.97 L495.21 305.06 L517.35 308.1 L524.02 321.74 L533.12 338.43 L539.19 348.43 L546.77 339.94 L554.36 331.45 L560.42 327.81 L564.97 306.58 L570.13 280.19 L593.79 273.82 L597.42 262.6 L602.88 255.62 L608.95 265.63 L618.05 276.25 L628.67 287.77 L637.76 291.41 L646.86 282.31 L670.52 281.4 L675.68 282.31 L684.78 286.86 L692.36 279.28 L702.07 270.18 L710.56 268.67 L718.14 261.08 L724.21 257.44 L746.35 253.5 L749.99 251.98 L756.05 255.02 L762.12 260.17 L769.7 259.57 L780.02 258.05 L789.1 250.47 L799.71 224.69 L823.98 218.62 L833.08 200.42 L840.66 167.06 L846.73 150.38 L849.76 146.43 L864.93 142.19 L876.45 151.89 L900.72 154.93 L910.42 160.39 L914.97 159.48 L918.0 161.9 L922.55 161.6 L927.1 164.63 L934.69 154.93 L945.3 148.86 L949.85 151.89 L952.88 179.19 L977.15 201.94 L983.22 273.22 L992.31 321.74 L1001.41 399.09 L1010.51 427.9 L1019.61 444.58 L1024.16 440.64 L1030.23 427.29 L1062.07 417.29 L1071.17 373.31 L1083.31 318.71 L1092.41 286.86 L1106.05 261.08 L1130.02 258.96 L1133.64 260.48 L1143.65 288.38 L1152.75 342.98 L1163.36 402.12 L1172.46 435.48 L1178.53 444.58 L1183.08 455.81 L1205.83 458.23 L1213.41 457.63 L1220.99 462.17 L1223.42 459.75 L1226.45 462.17 L1231.61 456.72 L1234.64 449.13 L1243.74 414.25 L1252.84 386.95 L1259.81 379.37 L1283.17 381.8 L1287.72 379.98 L1292.27 382.41 L1295.3 377.86 L1302.88 349.04 L1308.95 327.81 L1314.41 316.28 L1324.12 307.49 L1336.25 302.94 L1359.0 300.51 L1365.06 282.31 L1372.64 258.05 L1378.71 235.3 L1386.29 227.72 L1393.27 229.24 L1399.94 220.14 L1407.53 211.95 L1412.07 205.88 L1435.73 195.87 L1439.98 186.17 L1445.44 183.44 L1448.47 186.17 L1453.02 186.77 L1460.3 179.19" stroke="#ff9800" stroke-width="1.8" fill="none" stroke-linejoin="round"/>
<text x="775.5" y="44" text-anchor="middle" font-size="22.5" textLength="118" lengthAdjust="spacingAndGlyphs" fill="#fafafa">USD/JPY 4H</text>
<line x1="97" x2="143" y1="57.5" y2="57.5" stroke="#26a69a" stroke-width="3"/>
<line x1="120" x2="143" y1="57.5" y2="57.5" stroke="#ef5350" stroke-width="3"/>
<path d="M107.5 48H132.5L107.5 67Z" fill="#1f5f5c" stroke="#26a69a" stroke-width="3" stroke-linejoin="round"/>
<path d="M132.5 48V67H107.5Z" fill="#8d3a3c" stroke="#ef5350" stroke-width="3" stroke-linejoin="round"/>
<text x="150" y="64.8" font-size="16.8" textLength="38" lengthAdjust="spacingAndGlyphs" fill="#fafafa">Price</text>
<line x1="202" x2="248" y1="58" y2="58" stroke="#ff9800" stroke-width="1.5"/>
<text x="255.3" y="64.8" font-size="16.8" textLength="60.5" lengthAdjust="spacingAndGlyphs" fill="#fafafa">EMA(20)</text>
<line x1="331" x2="376.5" y1="58" y2="58" stroke="#2196f3" stroke-width="1.5"/>
<text x="384" y="64.8" font-size="16.8" textLength="60.5" lengthAdjust="spacingAndGlyphs" fill="#fafafa">EMA(50)</text>
<line x1="460" x2="505" y1="58" y2="58" stroke="#9c27b0" stroke-width="1.5"/>
<text x="512.6" y="64.8" font-size="16.8" textLength="69.8" lengthAdjust="spacingAndGlyphs" fill="#fafafa">EMA(200)</text>
<line x1="597.5" x2="642.5" y1="58" y2="58" stroke="#ff9800" stroke-width="1.5"/>
<text x="650" y="64.8" font-size="16.8" textLength="24" lengthAdjust="spacingAndGlyphs" fill="#fafafa">RSI</text>
<rect x="689.5" y="54" width="45" height="9" fill="#111d2e"/>
<line x1="689.5" x2="734.5" y1="54" y2="54" stroke="#2196f3" stroke-width="1.5"/>
<text x="741.6" y="64.8" font-size="16.8" textLength="29" lengthAdjust="spacingAndGlyphs" fill="#fafafa">ATR</text>
</svg>

  <!-- manage app -->
  <div class="abs" style="left:1525px;top:1398px;width:221px;height:66px;background:#0e1117"></div>
  <svg class="abs" style="left:1560px;top:1420px" width="20" height="22" viewBox="0 0 20 22" fill="none" stroke="#fafafa" stroke-width="2.8" stroke-linecap="round" stroke-linejoin="round"><path d="M14 3l-8 8 8 8"/></svg>
  <div class="t" style="left:1604px;top:1421px"><span style="font-size:19.5px;letter-spacing:-0.192px">Manage app</span></div>
</main>
</body>
</html>
